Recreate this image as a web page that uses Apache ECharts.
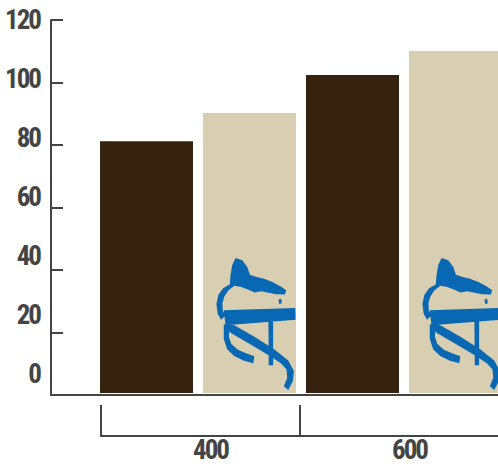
<!DOCTYPE html>
<html>
<head>
<meta charset="utf-8">
<script src="https://cdn.jsdelivr.net/npm/echarts@6/dist/echarts.min.js"></script>
<style>
html,body{margin:0;padding:0;background:#fff;}
#chart{width:498px;height:468px;}
#chart text{font-stretch:condensed;letter-spacing:-2px;}
</style>
</head>
<body>
<div id="chart"></div>
<script>
// ---- data ----
const categories = ['400', '600'];
const seriesDark = [81, 102.3];
const seriesBeige = [90.1, 110];
const yTicks = [0, 20, 40, 60, 80, 100, 120];

const FONT = "Roboto, 'Open Sans', sans-serif";
const FSIZE = 27;
const AXIS = '#444444';
const LOGO = 'path://' +
  'M105,28 L125,35 L140,55 L148,78 L165,84 L190,90 L215,100 L240,113 L256,124 L252,137 L225,136 L200,131 L182,127 L162,131 L140,121 L120,114 L100,111 L88,106 L90,80 L95,50 Z ' +
  'M92,104 L100,112 L84,124 L72,142 L66,162 L67,185 L75,200 L62,212 L52,195 L48,165 L54,138 L68,118 Z ' +
  'M70,184 L283,177 L284,212 L75,229 Z ' +
  'M203,212 L217,211 L217,348 L204,348 Z ' +
  'M233,152 L241,150 L243,163 L235,165 Z ' +
  'M82,226 L100,228 L160,262 L220,300 L262,334 L279,365 L276,395 L262,422 L249,411 L259,386 L257,361 L240,342 L205,319 L150,286 L90,251 L82,241 Z ' +
  'M70,226 L88,230 L85,262 L92,284 L112,302 L140,314 L161,321 L158,342 L130,335 L100,320 L80,300 L70,270 Z';

const chart = echarts.init(document.getElementById('chart'), null, {renderer: 'svg'});
const labelFont = {color: AXIS, fontFamily: FONT, fontWeight: 'bold', fontSize: FSIZE};
chart.setOption({
  animation: false,
  backgroundColor: '#ffffff',
  grid: [
    {left: 95, width: 412, top: 20, bottom: 75, outerBoundsMode: 'none', containLabel: false},   // 0: bars
    {left: 51, right: 0, top: 20, bottom: 73, outerBoundsMode: 'none', containLabel: false},     // 1: axis lines & ticks
    {left: 51, right: 0, top: 20, bottom: 94, outerBoundsMode: 'none', containLabel: false},     // 2: y labels
    {left: 101, width: 398, top: 400, bottom: 32, outerBoundsMode: 'none', containLabel: false}  // 3: category bracket
  ],
  xAxis: [
    {gridIndex: 0, type: 'category', data: categories, show: false},
    {gridIndex: 1, type: 'value', min: 0, max: 1, axisLine: {show: true, onZero: false, lineStyle: {color: AXIS, width: 2}},
      axisTick: {show: false}, axisLabel: {show: false}, splitLine: {show: false}},
    {gridIndex: 2, type: 'value', show: false},
    {gridIndex: 3, type: 'category', data: categories, boundaryGap: true,
      axisLine: {show: true, lineStyle: {color: AXIS, width: 2}},
      axisTick: {show: true, inside: true, length: 31, lineStyle: {color: AXIS, width: 2}},
      axisLabel: Object.assign({show: true, margin: 2,
        formatter: v => '{a|' + v + '}', rich: {a: Object.assign({padding: [0, 0, 0, 20], lineHeight: 24}, labelFont)}}, labelFont),
      splitLine: {show: false}}
  ],
  yAxis: [
    {gridIndex: 0, type: 'value', min: 0, max: 120, interval: 20, show: false},
    {gridIndex: 1, type: 'value', min: 0, max: 120, interval: 20,
      axisLine: {show: true, lineStyle: {color: AXIS, width: 2}},
      axisTick: {show: true, inside: true, length: 12, customValues: yTicks.slice(1), lineStyle: {color: AXIS, width: 2}},
      axisLabel: {show: false}, splitLine: {show: false}},
    {gridIndex: 2, type: 'value', min: 0, max: 120, interval: 20,
      axisLine: {show: false}, axisTick: {show: false}, splitLine: {show: false},
      axisLabel: Object.assign({show: true, margin: 11, customValues: yTicks}, labelFont)},
    {gridIndex: 3, type: 'value', show: false}
  ],
  series: [
    {type: 'bar', xAxisIndex: 0, yAxisIndex: 0, data: seriesDark, barWidth: 93, barGap: '10.75%',
      itemStyle: {color: '#35220f'}},
    {type: 'bar', xAxisIndex: 0, yAxisIndex: 0, data: seriesBeige, barWidth: 93, barGap: '10.75%',
      itemStyle: {color: '#d8ceb1'}},
    {type: 'pictorialBar', xAxisIndex: 0, yAxisIndex: 0, data: seriesBeige, symbol: LOGO,
      symbolSize: [79, 132], symbolPosition: 'start', symbolOffset: [58, -3], z: 5,
      itemStyle: {color: '#0868b4'}}
  ]
});
</script>
</body>
</html>
